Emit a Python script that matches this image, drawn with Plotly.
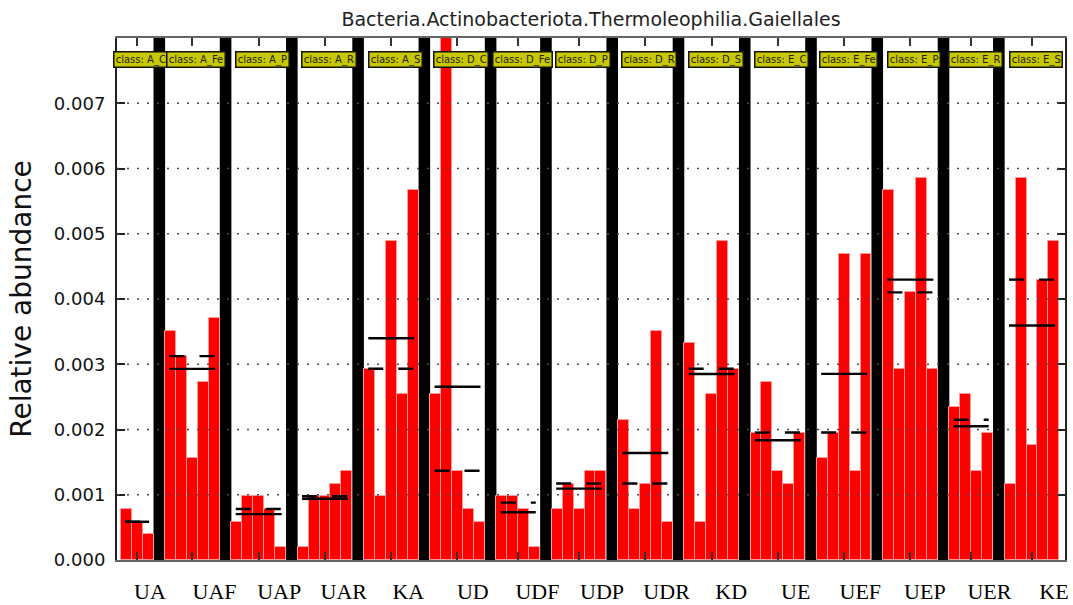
import numpy as np
import plotly.graph_objects as go

# ---------------- data ----------------
groups = ["A_C", "A_Fe", "A_P", "A_R", "A_S", "D_C", "D_Fe", "D_P", "D_R", "D_S",
          "E_C", "E_Fe", "E_P", "E_R", "E_S"]
bottom_labels = ["UA", "UAF", "UAP", "UAR", "KA", "UD", "UDF", "UDP", "UDR", "KD",
                 "UE", "UEF", "UEP", "UER", "KE"]

A_C = [0.000781, 0.000586, 0.000391]
A_Fe = [0.003516, 0.003125, 0.001563, 0.002734, 0.003711]
A_P = [0.000586, 0.000977, 0.000977, 0.000781, 0.000195]
A_R = [0.000195, 0.000977, 0.000977, 0.001172, 0.001367]
A_S = [0.002930, 0.000977, 0.004883, 0.002539, 0.005664]
D_C = [0.002539, 0.008008, 0.001367, 0.000781, 0.000586]
D_Fe = [0.000977, 0.000977, 0.000781, 0.000195]
D_P = [0.000781, 0.001172, 0.000781, 0.001367, 0.001367]
D_R = [0.002148, 0.000781, 0.001172, 0.003516, 0.000586]
D_S = [0.003320, 0.000586, 0.002539, 0.004883, 0.002930]
E_C = [0.001953, 0.002734, 0.001367, 0.001172, 0.001953]
E_Fe = [0.001563, 0.001953, 0.004688, 0.001367, 0.004688]
E_P = [0.005664, 0.002930, 0.004102, 0.005859, 0.002930]
E_R = [0.002344, 0.002539, 0.001367, 0.001953]
E_S = [0.001172, 0.005859, 0.001758, 0.004297, 0.004883]

group_values = [A_C, A_Fe, A_P, A_R, A_S, D_C, D_Fe, D_P, D_R, D_S,
                 E_C, E_Fe, E_P, E_R, E_S]

y_ticks = [0.0, 0.001, 0.002, 0.003, 0.004, 0.005, 0.006, 0.007]
title = "Bacteria.Actinobacteriota.Thermoleophilia.Gaiellales"

# ---------------- layout params ----------------
W, H = 1073, 605
ML, MR, MT, MB = 117, 8, 38, 45
SEP = 1.061          # separator width in bar units
LEFT_PAD, RIGHT_PAD = 0.34, 0.52
INSET = 0.4          # mean / median line inset

fig = go.Figure()

bar_x, bar_y = [], []
starts = []
pos = 0.0
for vals in group_values:
    starts.append(pos)
    for i, v in enumerate(vals):
        bar_x.append(pos + 0.5 + i)
        bar_y.append(v)
    pos += len(vals) + SEP
total = pos - SEP

fig.add_trace(go.Bar(
    x=bar_x, y=bar_y, width=1.0,
    marker=dict(color="#ff0000", line=dict(color="#ff9a9a", width=1)),
    showlegend=False, hoverinfo="skip"))

shapes = []
# black separators between panels
for i in range(len(group_values) - 1):
    x0 = starts[i] + len(group_values[i])
    x1 = starts[i + 1]
    shapes.append(dict(type="rect", xref="x", yref="paper", x0=x0, x1=x1, y0=0, y1=1,
                       fillcolor="black", line=dict(width=0), layer="below"))

# mean (solid) and median (dashed) lines
for s, vals in zip(starts, group_values):
    n = len(vals)
    m = float(np.mean(vals))
    md = float(np.median(vals))
    fig.add_trace(go.Scatter(x=[s + INSET, s + n - INSET], y=[m, m], mode="lines",
                             line=dict(color="black", width=2.4),
                             showlegend=False, hoverinfo="skip"))
    fig.add_trace(go.Scatter(x=[s + INSET, s + n - INSET], y=[md, md], mode="lines",
                             line=dict(color="black", width=2.4, dash="15px,15px"),
                             showlegend=False, hoverinfo="skip"))

# dotted grid lines drawn above bars
for v in y_ticks[1:]:
    shapes.append(dict(type="line", xref="paper", yref="y", x0=0, x1=1, y0=v, y1=v,
                       line=dict(color="#4a4a4a", width=1.6, dash="2px,8px"), layer="above"))

# helper trace for the bottom category labels axis
fig.add_trace(go.Scatter(x=list(range(len(bottom_labels))), y=[None] * len(bottom_labels),
                         xaxis="x2", mode="markers", showlegend=False, hoverinfo="skip"))

annotations = []
for s, vals, g in zip(starts, group_values, groups):
    annotations.append(dict(
        x=s + len(vals) / 2, xref="x", y=1, yref="paper", yanchor="middle", yshift=-21,
        xshift=4, text="class: " + g, showarrow=False,
        font=dict(family="DejaVu Sans", size=10, color="#222"),
        bgcolor="#c8c800", bordercolor="#111", borderwidth=1.5, borderpad=1.2))

panel_centers = [s + len(v) / 2 for s, v in zip(starts, group_values)]

fig.update_layout(
    width=W, height=H, autosize=False,
    margin=dict(l=ML, r=MR, t=MT, b=MB, autoexpand=False),
    paper_bgcolor="white", plot_bgcolor="white",
    bargap=0,
    title=dict(text=title, x=0.5, xref="paper", xanchor="center",
               y=1 - 19 / H, yref="container", yanchor="middle",
               font=dict(family="DejaVu Sans", size=19, color="#222")),
    xaxis=dict(range=[-LEFT_PAD, total + RIGHT_PAD], tickvals=panel_centers,
               showticklabels=False, ticks="inside", ticklen=8, tickwidth=1.5,
               tickcolor="#333", showline=True, linecolor="#666", linewidth=1.5,
               mirror="ticks", showgrid=False, zeroline=False, automargin=False),
    xaxis2=dict(overlaying="x", anchor="y", side="bottom",
                range=[-0.511, 14.17], tickvals=list(range(len(bottom_labels))),
                ticktext=bottom_labels, ticks="", showline=False, showgrid=False,
                zeroline=False, ticklabelstandoff=16, automargin=False,
                tickfont=dict(family="Liberation Serif", size=22, color="black")),
    yaxis=dict(range=[0, 0.008], tickvals=y_ticks, tickformat=".3f",
               ticks="inside", ticklen=8, tickwidth=1.5, tickcolor="#222",
               showline=True, linecolor="#222", linewidth=2, mirror="ticks",
               showgrid=False, zeroline=False, automargin=False,
               tickfont=dict(family="DejaVu Sans", size=18, color="#111"),
               ticklabelstandoff=6,
               title=dict(text="Relative abundance", standoff=14,
                          font=dict(family="DejaVu Sans", size=28, color="#111"))),
    shapes=shapes,
    annotations=annotations,
)

fig.write_html("out.html")
